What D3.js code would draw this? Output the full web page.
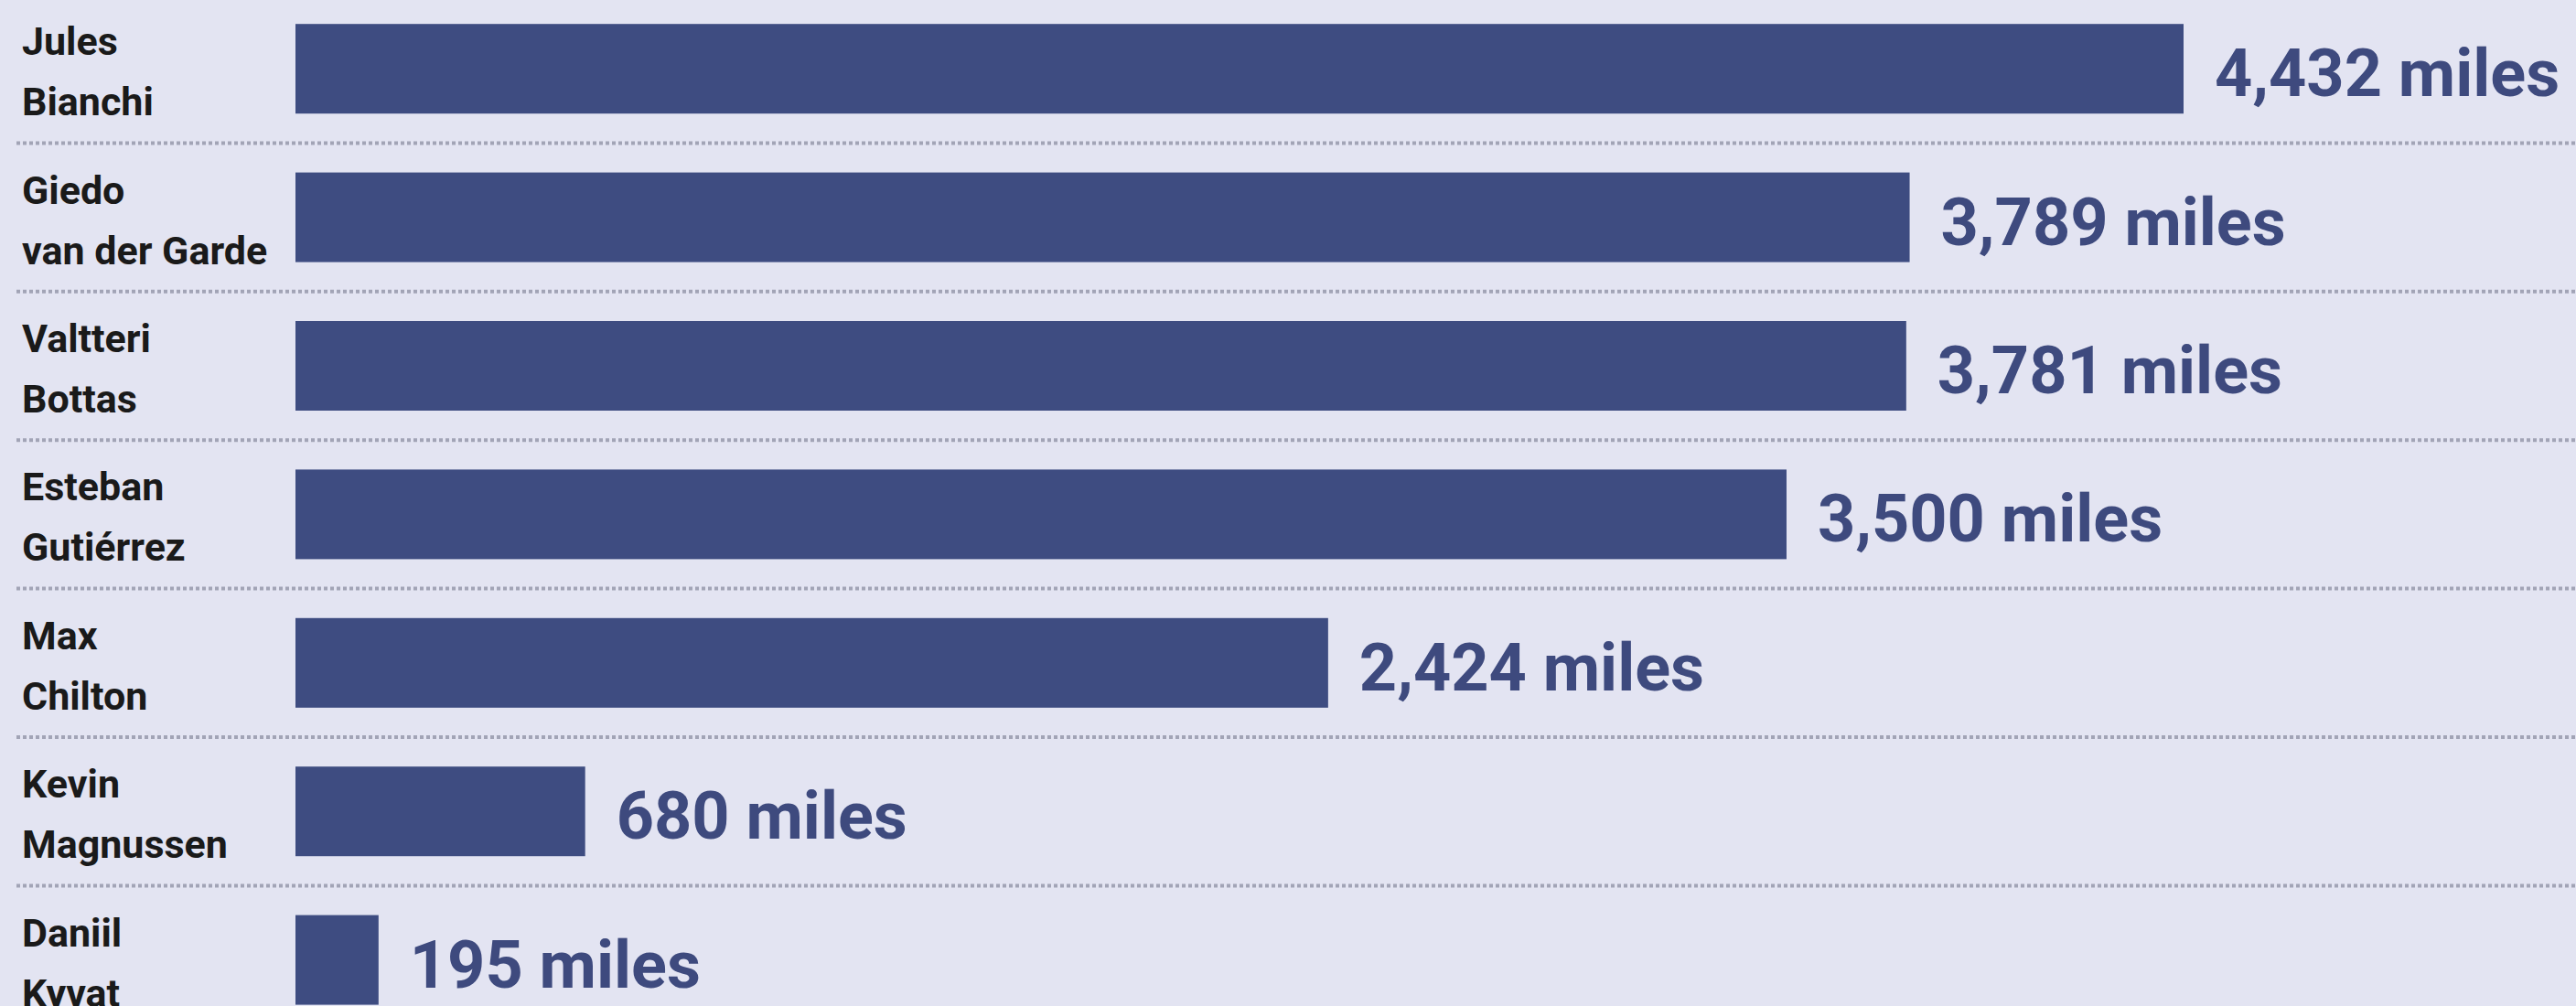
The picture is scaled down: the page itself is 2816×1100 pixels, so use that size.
<!DOCTYPE html>
<html>
<head>
<meta charset="utf-8">
<script src="https://cdn.jsdelivr.net/npm/d3@7"></script>
<style>
  html, body { margin: 0; padding: 0; background: #e3e4f2; }
  svg { display: block; }
</style>
</head>
<body>
<svg width="2816" height="1100"></svg>
<script>
(function (d3) {
    'use strict';

    // drivers, first and last name on two lines
    const firstNames = ['Jules', 'Giedo', 'Valtteri', 'Esteban', 'Max', 'Kevin', 'Daniil'];
    const lastNames = ['Bianchi', 'van der Garde', 'Bottas', 'Gutiérrez', 'Chilton', 'Magnussen', 'Kyvat'];
    const miles = [4432, 3789, 3781, 3500, 2424, 680, 195];

    const W = 2816, H = 1100;
    const svg = d3.select('svg');

    const rows = d3.range(miles.length);

    const y = d3.scaleBand()
      .domain(rows)
      .range([-6, -6 + 162.4 * miles.length])
      .padding(0);

    const x = d3.scaleLinear()
      .domain([0, d3.max(miles)])
      .range([323, 2387]);

    const barH = 98;
    const fmt = d3.format(',');

    // dotted separators between rows
    svg.selectAll('line.sep').data(rows.slice(1))
      .enter().append('line')
      .attr('class', 'sep')
      .attr('x1', 18)
      .attr('x2', W)
      .attr('y1', d => y(d))
      .attr('y2', d => y(d))
      .attr('stroke', '#a2a4b6')
      .attr('stroke-width', 4)
      .attr('stroke-dasharray', '4,3');

    const row = svg.selectAll('g.row').data(rows)
      .enter().append('g')
      .attr('class', 'row')
      .attr('transform', d => `translate(0,${y(d) + y.bandwidth() / 2})`);

    row.append('rect')
      .attr('x', x(0))
      .attr('y', -barH / 2)
      .attr('width', d => x(miles[d]) - x(0))
      .attr('height', barH)
      .attr('fill', '#3e4c81');

    row.append('text')
      .attr('x', d => x(miles[d]) + 34)
      .attr('y', 30)
      .attr('font-family', 'Roboto, sans-serif')
      .attr('font-weight', 700)
      .attr('font-size', 72)
      .attr('fill', '#3e4a7e')
      .text(d => fmt(miles[d]) + ' miles');

    const lbl = row.append('text')
      .attr('font-family', 'Roboto, sans-serif')
      .attr('font-weight', 700)
      .attr('font-size', 43)
      .attr('fill', '#1a1a1a');

    lbl.append('tspan')
      .attr('x', 24)
      .attr('y', -15)
      .text(d => firstNames[d]);

    lbl.append('tspan')
      .attr('x', 24)
      .attr('y', 51)
      .text(d => lastNames[d]);

}(d3));
</script>
</body>
</html>
